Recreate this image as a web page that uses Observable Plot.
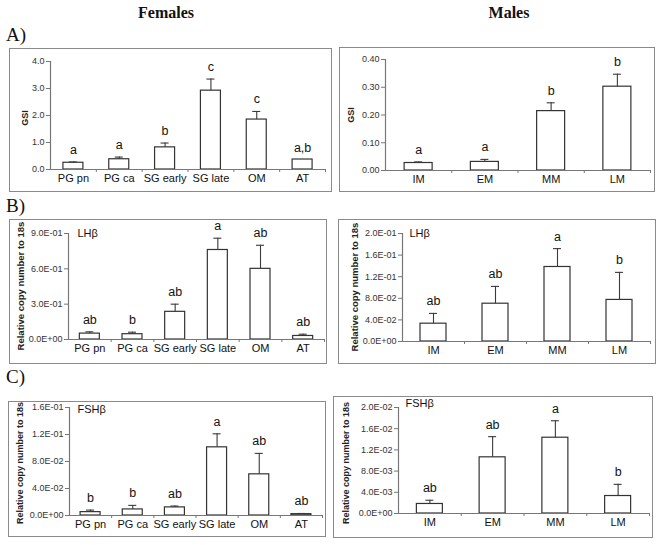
<!DOCTYPE html>
<html>
<head>
<meta charset="utf-8">
<script src="https://cdn.jsdelivr.net/npm/d3@7"></script>
<script src="https://cdn.jsdelivr.net/npm/@observablehq/plot@0.6"></script>
<style>
  html, body { margin: 0; padding: 0; background: white; }
  #page { position: relative; width: 664px; height: 545px; overflow: hidden; background: white; }
  .title { position: absolute; font-family: "Liberation Serif", "Times New Roman", serif; font-weight: bold; font-size: 16px; color: #111; transform: translateX(-50%); }
  .plab { position: absolute; font-family: "Liberation Serif", "Times New Roman", serif; font-size: 19px; color: #111; }
  .panel { position: absolute; }
  .panel svg { position: absolute; left: 0; top: 0; max-width: none; }
  .frame { position: absolute; left: 0; top: 0; box-sizing: border-box; border: 1.5px solid #8a8a8a; pointer-events: none; }
  .ylab { position: absolute; white-space: nowrap; font-family: "Liberation Sans", Arial, sans-serif; font-weight: bold; color: #222; transform: translate(-50%, -50%) rotate(-90deg); line-height: 1; }
</style>
</head>
<body>
<div id="page">
  <div class="title" style="left:166px; top:4px;">Females</div>
  <div class="title" style="left:509px; top:4px;">Males</div>
  <div class="plab" style="left:6px; top:24px;">A)</div>
  <div class="plab" style="left:6px; top:195px;">B)</div>
  <div class="plab" style="left:6px; top:366px;">C)</div>
</div>
<script>
// ---------- data ----------
const femaleStages = ["PG pn", "PG ca", "SG early", "SG late", "OM", "AT"];
const maleStages = ["IM", "EM", "MM", "LM"];

const gsiFemaleMean = [0.25, 0.38, 0.82, 2.92, 1.85, 0.37];
const gsiFemaleSE   = [0.03, 0.08, 0.16, 0.43, 0.30, 0];
const gsiFemaleLetters = ["a", "a", "b", "c", "c", "a,b"];
const gsiFemaleTicks = [0, 1, 2, 3, 4];

const gsiMaleMean = [0.027, 0.031, 0.214, 0.302];
const gsiMaleSE   = [0.004, 0.009, 0.030, 0.045];
const gsiMaleLetters = ["a", "a", "b", "b"];
const gsiMaleTicks = [0, 0.1, 0.2, 0.3, 0.4];

const lhFemaleMean = [0.050, 0.045, 0.235, 0.760, 0.600, 0.030];
const lhFemaleSE   = [0.015, 0.017, 0.065, 0.100, 0.200, 0.015];
const lhFemaleLetters = ["ab", "b", "ab", "a", "ab", "ab"];
const lhFemaleTicks = [0, 0.3, 0.6, 0.9];

const lhMaleMean = [0.033, 0.070, 0.138, 0.077];
const lhMaleSE   = [0.019, 0.032, 0.034, 0.051];
const lhMaleLetters = ["ab", "ab", "a", "b"];
const lhMaleTicks = [0, 0.04, 0.08, 0.12, 0.16, 0.20];

const fshFemaleMean = [0.005, 0.009, 0.012, 0.101, 0.061, 0.002];
const fshFemaleSE   = [0.003, 0.006, 0.002, 0.020, 0.031, 0.001];
const fshFemaleLetters = ["b", "b", "ab", "a", "ab", "ab"];
const fshFemaleTicks = [0, 0.04, 0.08, 0.12, 0.16];

const fshMaleMean = [0.0018, 0.0106, 0.0143, 0.0033];
const fshMaleSE   = [0.0007, 0.0039, 0.0032, 0.0022];
const fshMaleLetters = ["ab", "ab", "a", "b"];
const fshMaleTicks = [0, 0.004, 0.008, 0.012, 0.016, 0.020];

const yLabelGSI = "GSI";
const yLabelRel = "Relative copy number to 18s";
const geneLH = "LHβ";
const geneFSH = "FSHβ";

// ---------- helpers ----------
function sci(v) {
  if (v === 0) return "0.0E+00";
  let e = Math.floor(Math.log10(Math.abs(v)) + 1e-9);
  let m = v / Math.pow(10, e);
  let ms = m.toFixed(1);
  if (+ms >= 10) { e += 1; ms = (v / Math.pow(10, e)).toFixed(1); }
  return ms + "E" + (e < 0 ? "-" : "+") + String(Math.abs(e)).padStart(2, "0");
}

function panel(o) {
  const n = o.cats.length;
  const data = o.cats.map((c, i) => ({i, cat: c, mean: o.mean[i], se: o.se[i], letter: o.letters[i], top: o.mean[i] + o.se[i]}));
  const withErr = data.filter(d => d.se > 0);
  const innerW = o.w - o.mL - o.mR;
  const bw = innerW / n;
  const barW = o.barW ?? 20;
  const inset = (bw - barW) / 2;
  const cap = 4 / bw;
  const yMax = o.ticks[o.ticks.length - 1];
  const marks = [
    Plot.rectY(data, {x1: d => d.i, x2: d => d.i + 1, y: "mean", insetLeft: inset, insetRight: inset,
      fill: "white", stroke: "#333", strokeWidth: 1.2}),
    Plot.ruleX(withErr, {x: d => d.i + 0.5, y1: "mean", y2: "top", stroke: "#3a3a3a", strokeWidth: 1.1}),
    Plot.ruleY(withErr, {y: "top", x1: d => d.i + 0.5 - cap, x2: d => d.i + 0.5 + cap, stroke: "#3a3a3a", strokeWidth: 1.1}),
    Plot.ruleX([0], {stroke: "#777", strokeWidth: 1.2}),
    Plot.ruleY([0], {stroke: "#777", strokeWidth: 1.2}),
    Plot.axisY({ticks: o.ticks, tickFormat: o.fmt, tickSize: 4, tickPadding: 2, fontSize: 9, stroke: "#777", color: "#333", label: null}),
    Plot.axisX({ticks: d3.range(1, n + 1), tickFormat: () => "", tickSize: 3, stroke: "#777", label: null}),
    Plot.axisX({ticks: d3.range(n).map(i => i + 0.5), tickFormat: v => o.cats[Math.floor(v)], tickSize: 0, tickPadding: 5, fontSize: 11, color: "#111", label: null}),
    Plot.text(data, {x: d => d.i + 0.5, y: "top", text: "letter", dy: -12, fontSize: 12.5, fill: "#111"})
  ];
  if (o.gene) {
    marks.push(Plot.text([o.gene], {frameAnchor: "top-left", textAnchor: "start", lineAnchor: "middle", dx: o.gdx, dy: o.gdy, fontSize: 11, fill: "#111"}));
  }
  const svg = Plot.plot({
    width: o.w, height: o.h,
    marginLeft: o.mL, marginRight: o.mR, marginTop: o.mT, marginBottom: o.mB,
    x: {type: "linear", domain: [0, n], axis: null},
    y: {domain: [0, yMax], axis: null},
    style: {fontFamily: "'Liberation Sans', Arial, sans-serif", background: "white", overflow: "visible"},
    marks
  });
  const div = document.createElement("div");
  div.className = "panel";
  div.style.left = o.left + "px"; div.style.top = o.top + "px";
  div.style.width = o.w + "px"; div.style.height = o.h + "px";
  div.appendChild(svg);
  const yl = document.createElement("div");
  yl.className = "ylab";
  yl.textContent = o.ylabel;
  yl.style.fontSize = (o.ylabSize ?? 9.5) + "px";
  yl.style.left = o.ylabX + "px";
  yl.style.top = (o.mT + (o.h - o.mT - o.mB) / 2 + (o.ylabDy ?? 0)) + "px";
  div.appendChild(yl);
  const fr = document.createElement("div");
  fr.className = "frame";
  fr.style.width = o.w + "px"; fr.style.height = o.h + "px";
  div.appendChild(fr);
  document.getElementById("page").appendChild(div);
}

const f1 = d3.format(".1f"), f2 = d3.format(".2f");

panel({left: 9, top: 48, w: 323, h: 144, mL: 41, mR: 7, mT: 13, mB: 23,
  cats: femaleStages, mean: gsiFemaleMean, se: gsiFemaleSE, letters: gsiFemaleLetters,
  ticks: gsiFemaleTicks, fmt: f1, ylabel: yLabelGSI, ylabX: 16, ylabSize: 9, ylabDy: 3});
panel({left: 339, top: 47, w: 316, h: 145, mL: 46, mR: 5, mT: 12, mB: 22,
  cats: maleStages, mean: gsiMaleMean, se: gsiMaleSE, letters: gsiMaleLetters,
  ticks: gsiMaleTicks, fmt: f2, ylabel: yLabelGSI, ylabX: 12, ylabSize: 9, barW: 28});
panel({left: 9, top: 219, w: 318, h: 145, mL: 59, mR: 3, mT: 14, mB: 25,
  cats: femaleStages, mean: lhFemaleMean, se: lhFemaleSE, letters: lhFemaleLetters,
  ticks: lhFemaleTicks, fmt: sci, ylabel: yLabelRel, ylabX: 12, gene: geneLH, gdx: 9, gdy: 0});
panel({left: 338, top: 219, w: 318, h: 145, mL: 64, mR: 6, mT: 14, mB: 23,
  cats: maleStages, mean: lhMaleMean, se: lhMaleSE, letters: lhMaleLetters,
  ticks: lhMaleTicks, fmt: sci, ylabel: yLabelRel, ylabX: 17, gene: geneLH, gdx: 7, gdy: 0, barW: 26});
panel({left: 8, top: 401, w: 318, h: 136, mL: 61, mR: 4, mT: 6, mB: 22,
  cats: femaleStages, mean: fshFemaleMean, se: fshFemaleSE, letters: fshFemaleLetters,
  ticks: fshFemaleTicks, fmt: sci, ylabel: yLabelRel, ylabX: 12, ylabSize: 9, ylabDy: 2, gene: geneFSH, gdx: 8, gdy: 2});
panel({left: 333, top: 396, w: 320, h: 142, mL: 65, mR: 4, mT: 11, mB: 25,
  cats: maleStages, mean: fshMaleMean, se: fshMaleSE, letters: fshMaleLetters,
  ticks: fshMaleTicks, fmt: sci, ylabel: yLabelRel, ylabX: 13, ylabSize: 9, ylabDy: 3, gene: geneFSH, gdx: 7, gdy: -4, barW: 26});
</script>
</body>
</html>
